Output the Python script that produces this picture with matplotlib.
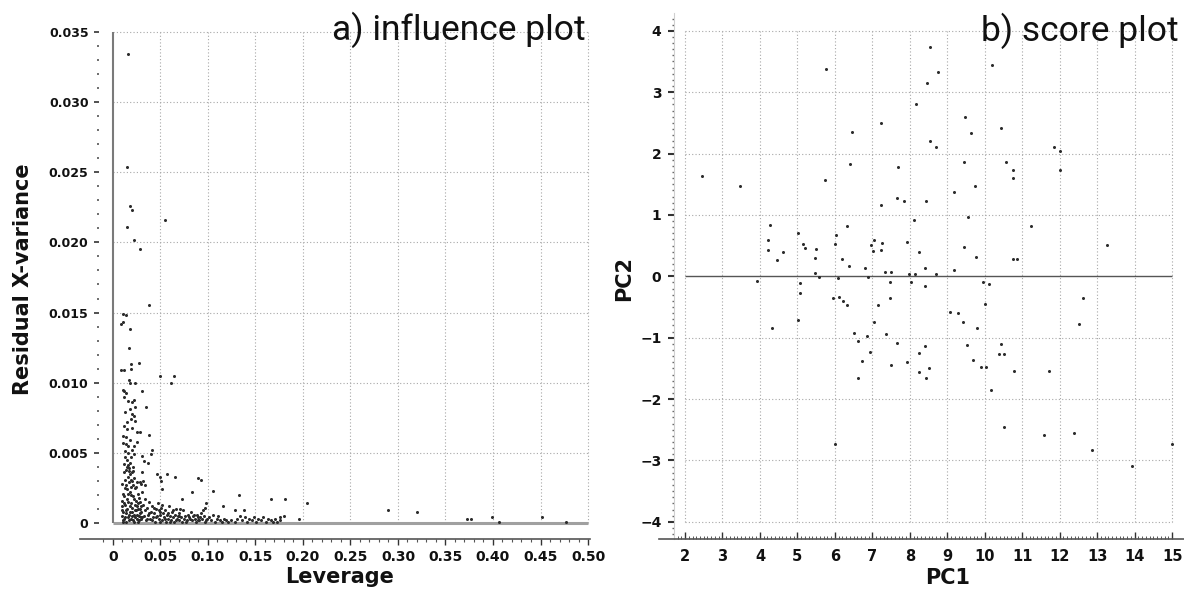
import numpy as np
import matplotlib
matplotlib.use("Agg")
import matplotlib.pyplot as plt
from matplotlib.ticker import FixedLocator, FixedFormatter, MultipleLocator

plt.rcParams['font.family'] = ['DejaVu Sans']

W, H = 1184, 589

# ticks and labels
lev_ticks = [0, 0.05, 0.10, 0.15, 0.20, 0.25, 0.30, 0.35, 0.40, 0.45, 0.50]
lev_labels = ['0', '0.05', '0.10', '0.15', '0.20', '0.25', '0.30', '0.35', '0.40', '0.45', '0.50']
res_ticks = [0, 0.005, 0.010, 0.015, 0.020, 0.025, 0.030, 0.035]
res_labels = ['0', '0.005', '0.010', '0.015', '0.020', '0.025', '0.030', '0.035']
pc1_ticks = [2, 3, 4, 5, 6, 7, 8, 9, 10, 11, 12, 13, 14, 15]
pc2_ticks = [-4, -3, -2, -1, 0, 1, 2, 3, 4]
pc2_labels = ['\u22124', '\u22123', '\u22122', '\u22121', '0', '1', '2', '3', '4']

# a) influence plot: (leverage, residual X-variance)
influence_upper = [
    (0.0158, 0.0334), (0.0151, 0.0254), (0.0176, 0.0226), (0.0201, 0.0223),
    (0.0151, 0.0211), (0.0222, 0.0202), (0.0282, 0.0195), (0.0546, 0.0216),
    (0.0378, 0.01555),
]
influence_mid = [
    (0.0108, 0.0149), (0.0137, 0.0148), (0.0088, 0.0142), (0.0104, 0.0143),
    (0.0177, 0.0138), (0.0165, 0.0125), (0.0088, 0.0109), (0.0116, 0.0109),
    (0.0185, 0.0113), (0.0189, 0.0110), (0.0269, 0.0114), (0.0498, 0.0105),
    (0.0647, 0.0105), (0.0606, 0.0100), (0.0165, 0.0102), (0.0177, 0.0100),
    (0.0237, 0.0100), (0.0104, 0.0095), (0.0116, 0.0094), (0.0137, 0.0093),
    (0.0305, 0.0094), (0.0225, 0.0088), (0.0197, 0.0086), (0.0237, 0.0083),
    (0.0349, 0.0083), (0.0177, 0.0081), (0.0217, 0.0076), (0.0189, 0.0074),
    (0.0237, 0.0073), (0.0116, 0.0069), (0.0149, 0.0067), (0.0197, 0.0068),
    (0.0249, 0.0065), (0.0289, 0.0065), (0.0378, 0.0063), (0.0104, 0.0057),
    (0.0137, 0.0056), (0.0177, 0.0059), (0.0217, 0.0055), (0.0124, 0.0051),
    (0.0157, 0.0050), (0.0197, 0.0052), (0.0225, 0.0049), (0.0410, 0.0052),
    (0.0398, 0.0049), (0.0305, 0.0048), (0.0329, 0.0044), (0.0369, 0.0043),
    (0.0145, 0.0045), (0.0177, 0.0043), (0.0161, 0.0041), (0.0137, 0.0038),
    (0.0169, 0.0037), (0.0197, 0.0036), (0.0305, 0.0036), (0.0466, 0.0035),
    (0.0498, 0.0033), (0.0570, 0.0035), (0.0651, 0.0033), (0.0518, 0.0024),
    (0.0510, 0.0030), (0.0900, 0.0032), (0.0928, 0.0031), (0.0317, 0.0030),
    (0.0289, 0.0029), (0.0337, 0.0027), (0.0831, 0.0022), (0.1052, 0.0023),
    (0.1329, 0.0020), (0.1663, 0.0017), (0.1815, 0.0017), (0.2044, 0.0014),
    (0.0731, 0.0017), (0.1153, 0.0012), (0.1281, 0.0009), (0.1382, 0.0009),
    (0.0980, 0.0014), (0.0968, 0.0011), (0.1803, 0.0005), (0.1763, 0.0004),
    (0.1956, 0.0003), (0.2900, 0.0009), (0.3197, 0.0008), (0.3731, 0.0003),
    (0.3771, 0.0003), (0.3992, 0.0004), (0.4064, 0.0001), (0.4514, 0.0004),
    (0.4767, 0.0001), (0.0120, 0.0090), (0.0130, 0.0079), (0.0150, 0.0072),
    (0.0110, 0.0062), (0.0140, 0.0061), (0.0160, 0.0055), (0.0125, 0.0047),
    (0.0185, 0.0047), (0.0115, 0.0042), (0.0210, 0.0040), (0.0250, 0.0058),
    (0.0200, 0.0078), (0.0160, 0.0087),
]
influence_dense = [
    (0.009, 0.0016), (0.010, 0.0012), (0.011, 0.0008), (0.012, 0.0019), (0.013, 0.0004),
    (0.014, 0.0027), (0.015, 0.0010), (0.016, 0.0033), (0.017, 0.0006), (0.018, 0.0022),
    (0.019, 0.0014), (0.020, 0.0030), (0.021, 0.0002), (0.022, 0.0017), (0.023, 0.0025),
    (0.024, 0.0009), (0.025, 0.0012), (0.026, 0.0021), (0.027, 0.0005), (0.028, 0.0015),
    (0.029, 0.0028), (0.030, 0.0008), (0.009, 0.0005), (0.010, 0.0028), (0.011, 0.0021),
    (0.012, 0.0003), (0.013, 0.0013), (0.014, 0.0009), (0.015, 0.0024), (0.016, 0.0015),
    (0.017, 0.0039), (0.018, 0.0008), (0.019, 0.0031), (0.020, 0.0011), (0.021, 0.0019),
    (0.022, 0.0006), (0.023, 0.0013), (0.024, 0.0026), (0.025, 0.0003), (0.026, 0.0010),
    (0.027, 0.0018), (0.028, 0.0007), (0.029, 0.0012), (0.031, 0.0022), (0.0095, 0.0009),
    (0.0105, 0.0002), (0.0115, 0.0014), (0.0125, 0.0025), (0.0135, 0.0007), (0.0145, 0.0017),
    (0.0155, 0.0004), (0.0165, 0.0029), (0.0175, 0.0012), (0.0185, 0.0003), (0.0195, 0.0020),
    (0.0205, 0.0008), (0.0215, 0.0027), (0.0225, 0.0001), (0.0235, 0.0009), (0.0245, 0.0016),
    (0.0255, 0.0006), (0.0265, 0.0014), (0.0275, 0.0002), (0.0285, 0.0010), (0.0295, 0.0004),
    (0.012, 0.0036), (0.015, 0.0040), (0.018, 0.0035), (0.021, 0.0037), (0.013, 0.0031),
    (0.019, 0.0026), (0.016, 0.0021), (0.022, 0.0032), (0.025, 0.0029), (0.014, 0.0001),
    (0.017, 0.0002), (0.020, 0.0005), (0.023, 0.0004), (0.026, 0.0001), (0.029, 0.0003),
    (0.011, 0.0001), (0.032, 0.0013), (0.033, 0.0005), (0.034, 0.0009), (0.035, 0.0002),
    (0.036, 0.0011), (0.037, 0.0006), (0.038, 0.0015), (0.039, 0.0003), (0.040, 0.0008),
    (0.041, 0.0012), (0.042, 0.0004), (0.043, 0.0007), (0.044, 0.0001), (0.045, 0.0010),
    (0.046, 0.0005), (0.047, 0.0014), (0.048, 0.0003), (0.049, 0.0008), (0.050, 0.0006),
    (0.051, 0.0011), (0.052, 0.0002), (0.053, 0.0007), (0.054, 0.0004), (0.055, 0.0009),
    (0.056, 0.0001), (0.057, 0.0006), (0.058, 0.0003), (0.059, 0.0012), (0.060, 0.0005),
    (0.061, 0.0002), (0.062, 0.0008), (0.063, 0.0004), (0.064, 0.0001), (0.065, 0.0006),
    (0.066, 0.0010), (0.067, 0.0003), (0.068, 0.0005), (0.069, 0.0002), (0.070, 0.0007),
    (0.072, 0.0004), (0.073, 0.0001), (0.074, 0.0009), (0.075, 0.0003), (0.076, 0.0005),
    (0.078, 0.0002), (0.079, 0.0006), (0.080, 0.0004), (0.082, 0.0008), (0.083, 0.0002),
    (0.084, 0.0005), (0.086, 0.0003), (0.087, 0.0001), (0.088, 0.0006), (0.090, 0.0004),
    (0.091, 0.0002), (0.093, 0.0007), (0.094, 0.0003), (0.096, 0.0005), (0.097, 0.0001),
    (0.099, 0.0003), (0.031, 0.0004), (0.034, 0.0017), (0.036, 0.0003), (0.038, 0.0007),
    (0.041, 0.0002), (0.043, 0.0011), (0.045, 0.0004), (0.048, 0.0009), (0.050, 0.0001),
    (0.052, 0.0013), (0.055, 0.0003), (0.058, 0.0007), (0.060, 0.0001), (0.063, 0.0009),
    (0.066, 0.0002), (0.069, 0.0005), (0.071, 0.0010), (0.077, 0.0001), (0.081, 0.0003),
    (0.085, 0.0006), (0.089, 0.0002), (0.092, 0.0004), (0.095, 0.0009), (0.098, 0.0002),
    (0.101, 0.0004), (0.103, 0.0002), (0.105, 0.0006), (0.107, 0.0001), (0.109, 0.0003),
    (0.111, 0.0005), (0.113, 0.0002), (0.115, 0.0001), (0.117, 0.0003), (0.119, 0.0002),
    (0.121, 0.0001), (0.124, 0.0002), (0.128, 0.0001), (0.131, 0.0003), (0.134, 0.0005),
    (0.136, 0.0002), (0.139, 0.0004), (0.141, 0.0001), (0.143, 0.0003), (0.146, 0.0002),
    (0.148, 0.0004), (0.151, 0.0001), (0.153, 0.0003), (0.156, 0.0002), (0.158, 0.0004),
    (0.161, 0.0001), (0.163, 0.0003), (0.166, 0.0002), (0.168, 0.0001), (0.171, 0.0003),
    (0.173, 0.0001), (0.176, 0.0002),
]

# b) score plot: (PC1, PC2)
score_upper = [
    (2.44, 1.64), (3.47, 1.47), (5.75, 3.38), (5.73, 1.57), (6.46, 2.35), (6.41, 1.83),
    (7.22, 2.49), (7.22, 1.16), (7.68, 1.78), (7.65, 1.28), (7.85, 1.22), (8.16, 2.80),
    (8.54, 3.73), (8.76, 3.33), (8.46, 3.15), (8.54, 2.20), (8.69, 2.10), (8.44, 1.23),
    (9.17, 1.38), (9.46, 2.60), (9.63, 2.33), (9.44, 1.86), (9.75, 1.47), (9.55, 0.97),
    (10.18, 3.44), (10.43, 2.42), (10.57, 1.86), (10.75, 1.73), (10.76, 1.60), (11.23, 0.82),
    (11.84, 2.11), (12.01, 2.04), (12.01, 1.73), (13.26, 0.51), (4.26, 0.84), (4.22, 0.59),
    (4.22, 0.43), (4.62, 0.40), (4.46, 0.27), (5.02, 0.71), (5.14, 0.52), (5.21, 0.46),
    (5.50, 0.45), (5.48, 0.30), (5.46, 0.06), (6.04, 0.67), (6.01, 0.52), (6.31, 0.82),
    (6.18, 0.29), (6.38, 0.16), (6.81, 0.13), (6.97, 0.51), (7.04, 0.59), (7.02, 0.41),
    (7.25, 0.55), (7.23, 0.43), (7.35, 0.07), (7.50, 0.07), (7.93, 0.56), (8.11, 0.91),
    (8.25, 0.40), (7.98, 0.03), (8.13, 0.03), (8.40, 0.13), (8.69, 0.03), (9.17, 0.11),
    (9.44, 0.48), (9.76, 0.32), (10.75, 0.28), (10.86, 0.28),
]
score_lower = [
    (3.93, -0.08), (5.58, -0.01), (5.08, -0.11), (5.08, -0.28), (6.08, -0.02), (5.95, -0.35),
    (6.10, -0.33), (6.88, -0.01), (7.47, -0.10), (7.47, -0.36), (8.03, -0.10), (8.40, -0.15),
    (9.94, -0.10), (10.11, -0.13), (12.63, -0.36), (6.21, -0.40), (6.33, -0.46), (7.15, -0.47),
    (5.02, -0.71), (4.31, -0.85), (6.51, -0.92), (6.61, -1.05), (6.85, -0.98), (7.04, -0.74),
    (7.37, -0.94), (6.95, -1.23), (6.72, -1.38), (6.61, -1.66), (7.50, -1.45), (7.65, -1.09),
    (7.93, -1.40), (8.25, -1.25), (8.40, -1.14), (8.25, -1.56), (8.44, -1.66), (8.51, -1.50),
    (9.07, -0.58), (9.28, -0.60), (9.42, -0.75), (9.78, -0.84), (9.53, -1.12), (9.69, -1.36),
    (9.91, -1.48), (10.03, -1.48), (10.01, -0.45), (10.16, -1.86), (10.44, -1.11),
    (10.37, -1.27), (10.52, -1.27), (10.77, -1.55), (11.72, -1.55), (12.52, -0.77),
    (10.52, -2.45), (11.59, -2.58), (12.37, -2.55), (12.85, -2.83), (13.92, -3.09),
    (15.00, -2.73), (6.01, -2.73),
]


def box(left, top, right, bottom):
    return [left / W, 1 - bottom / H, (right - left) / W, (bottom - top) / H]


fig = plt.figure(figsize=(W / 100, H / 100), dpi=100)
grid_kw = dict(color='#a8a8a8', lw=0.8, linestyles=(0, (1, 2)), zorder=0)
pt_kw = dict(ls='none', marker='o', ms=2.2, mew=0, color='#2b2b2b', zorder=3)

# ---------- a) influence plot ----------
ax1 = fig.add_axes(box(99, 30, 590, 527))
ax1.set_xlim(-0.0147, 0.5021)
ax1.set_ylim(-0.000285, 0.03514)

ax1.vlines(lev_ticks[1:], 0, res_ticks[-1], **grid_kw)
ax1.hlines(res_ticks[1:], 0, lev_ticks[-1], **grid_kw)
ax1.hlines(0, 0, lev_ticks[-1], color='#a0a0a0', lw=2.2, zorder=2)
ax1.vlines(0, 0, res_ticks[-1], color='#7a7a7a', lw=1.5, zorder=2)

inf = np.array(influence_dense + influence_mid + influence_upper)
ax1.plot(inf[:, 0], inf[:, 1], **pt_kw)

for s in ['top', 'right', 'left']:
    ax1.spines[s].set_visible(False)
ax1.spines['bottom'].set_position(('outward', 8.6))
ax1.spines['bottom'].set_bounds(-0.035, 0.5021)
ax1.spines['bottom'].set_color('#555555')
ax1.spines['bottom'].set_linewidth(1.2)

ax1.xaxis.set_major_locator(FixedLocator(lev_ticks))
ax1.xaxis.set_major_formatter(FixedFormatter(lev_labels))
ax1.xaxis.set_minor_locator(MultipleLocator(0.01))
ax1.yaxis.set_major_locator(FixedLocator(res_ticks))
ax1.yaxis.set_major_formatter(FixedFormatter(res_labels))
ax1.yaxis.set_minor_locator(MultipleLocator(0.001))
ax1.tick_params(axis='x', which='major', length=4.5, width=1, color='#333', pad=3.5,
                labelsize=10, labelcolor='#111')
ax1.tick_params(axis='x', which='minor', length=2.5, width=0.8, color='#555')
ax1.tick_params(axis='y', which='major', length=3.5, width=1.2, color='#333', pad=4,
                labelsize=9, labelcolor='#111')
ax1.tick_params(axis='y', which='minor', length=1.5, width=1.2, color='#555')
for lab in ax1.get_xticklabels() + ax1.get_yticklabels():
    lab.set_fontweight('bold')

fig.text(586 / W, 1 - 40 / H, 'a) influence plot', ha='right', va='baseline',
         fontsize=25.5, family='Roboto', color='#111')
fig.text(340 / W, 1 - 583 / H, 'Leverage', ha='center', va='baseline',
         fontsize=15, fontweight='bold', color='#111')
fig.text(23 / W, 1 - 279 / H, 'Residual X-variance', ha='center', va='center',
         rotation=90, fontsize=15, fontweight='bold', color='#111')

# ---------- b) score plot ----------
ax2 = fig.add_axes(box(674, 13, 1174, 539))
ax2.set_xlim(1.706, 15.05)
ax2.set_ylim(-4.28, 4.29)

ax2.vlines(pc1_ticks, pc2_ticks[0], pc2_ticks[-1], **grid_kw)
ax2.hlines([t for t in pc2_ticks if t != 0], pc1_ticks[0], pc1_ticks[-1], **grid_kw)
ax2.hlines(0, pc1_ticks[0], pc1_ticks[-1], color='#555555', lw=1.0, zorder=2)

sc = np.array(score_upper + score_lower)
ax2.plot(sc[:, 0], sc[:, 1], **pt_kw)

for s in ['top', 'right']:
    ax2.spines[s].set_visible(False)
ax2.spines['left'].set_color('#d0d0d0')
ax2.spines['left'].set_linewidth(0.8)
ax2.spines['bottom'].set_bounds(1.3, 15.35)
ax2.spines['bottom'].set_color('#555555')
ax2.spines['bottom'].set_linewidth(1.2)

ax2.xaxis.set_major_locator(FixedLocator(pc1_ticks))
ax2.xaxis.set_minor_locator(MultipleLocator(0.1))
ax2.yaxis.set_major_locator(FixedLocator(pc2_ticks))
ax2.yaxis.set_major_formatter(FixedFormatter(pc2_labels))
ax2.yaxis.set_minor_locator(MultipleLocator(0.1))
ax2.tick_params(axis='x', which='major', direction='in', length=5, width=1, color='#333',
                pad=7, labelsize=10.5, labelcolor='#111')
ax2.tick_params(axis='x', which='minor', direction='in', length=2.5, width=0.7, color='#555')
ax2.tick_params(axis='y', which='major', length=4, width=1.5, color='#333', pad=5,
                labelsize=10, labelcolor='#111')
ax2.tick_params(axis='y', which='minor', length=1.5, width=1.0, color='#666')
for lab in ax2.get_xticklabels() + ax2.get_yticklabels():
    lab.set_fontweight('bold')

fig.text(1179 / W, 1 - 41 / H, 'b) score plot', ha='right', va='baseline',
         fontsize=25.5, family='Roboto', color='#111')
fig.text(948 / W, 1 - 584 / H, 'PC1', ha='center', va='baseline',
         fontsize=15, fontweight='bold', color='#111')
fig.text(624 / W, 1 - 279 / H, 'PC2', ha='center', va='center',
         rotation=90, fontsize=15, fontweight='bold', color='#111')

fig.savefig('out.png', dpi=100)
